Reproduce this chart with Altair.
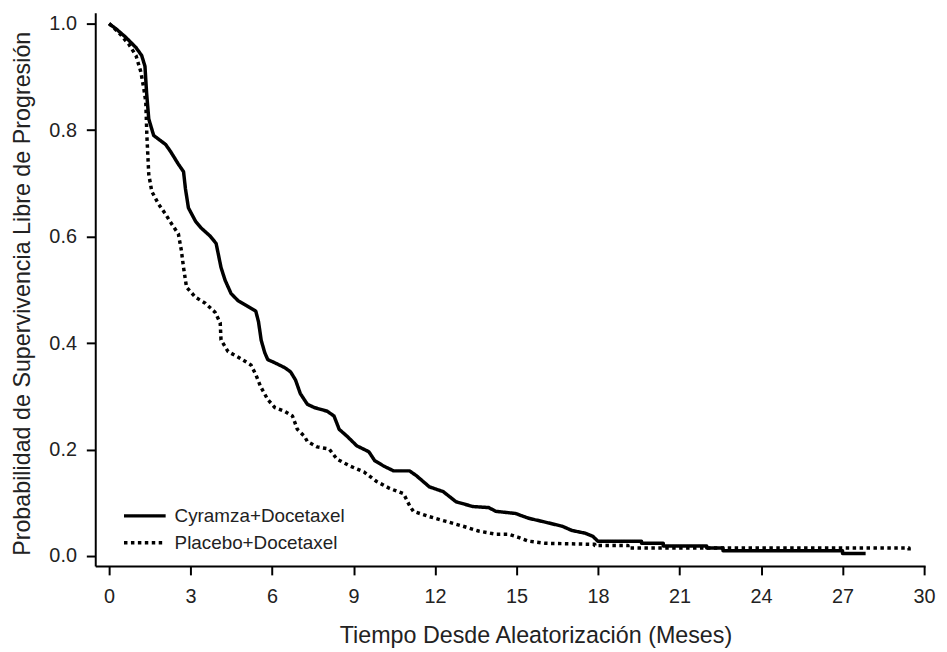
import altair as alt
import pandas as pd

# Kaplan-Meier curves
cyr_t = [0, 0.26, 0.6, 0.99, 1.2, 1.32, 1.38, 1.46, 1.64, 2.08, 2.26, 2.55, 2.74, 2.81, 2.92,
         3.18, 3.39, 3.72, 3.94, 4.12, 4.27, 4.49, 4.74, 5.04, 5.4, 5.5, 5.6, 5.73, 5.84, 6.1,
         6.46, 6.68, 6.86, 7.04, 7.3, 7.55, 8.03, 8.28, 8.47, 8.76, 9.12, 9.56, 9.78, 10.11,
         10.47, 11.06, 11.31, 11.79, 12.3, 12.77, 13.39, 13.98, 14.23, 14.96, 15.44, 15.95,
         16.68, 17.04, 17.52, 17.81, 17.99, 19.6, 19.6, 20.4, 20.4, 22.0, 22.0, 22.6, 22.6,
         27.0, 27.0, 27.85]
cyr_s = [1.0, 0.99, 0.975, 0.955, 0.94, 0.92, 0.87, 0.821, 0.79, 0.773, 0.76, 0.736, 0.722, 0.69, 0.654,
         0.629, 0.616, 0.601, 0.587, 0.542, 0.518, 0.493, 0.48, 0.471, 0.46, 0.44, 0.405, 0.382, 0.369, 0.363,
         0.354, 0.346, 0.331, 0.305, 0.285, 0.279, 0.272, 0.263, 0.238, 0.225, 0.207, 0.196, 0.179, 0.169,
         0.16, 0.16, 0.151, 0.13, 0.121, 0.102, 0.093, 0.091, 0.084, 0.08, 0.071, 0.065,
         0.056, 0.048, 0.043, 0.037, 0.028, 0.028, 0.024, 0.024, 0.019, 0.019, 0.015, 0.015, 0.01,
         0.01, 0.005, 0.005]

pla_t = [0, 0.36, 0.73, 0.99, 1.17, 1.28, 1.35, 1.39, 1.46, 1.57, 1.82, 2.08, 2.3, 2.55, 2.66,
         2.74, 2.85, 3.18, 3.54, 3.9, 4.09, 4.12, 4.38, 4.74, 5.22, 5.4, 5.58, 5.84, 6.1, 6.46,
         6.75, 6.93, 7.19, 7.3, 7.66, 8.1, 8.39, 8.87, 9.38, 9.85, 10.33, 10.84, 11.06, 11.2,
         11.79, 12.41, 13.03, 13.6, 14.23, 14.7, 15.07, 15.44, 16.06, 17.88, 17.88, 19.1, 19.1,
         29.45, 29.45]
pla_s = [1.0, 0.983, 0.961, 0.94, 0.909, 0.877, 0.853, 0.79, 0.717, 0.685, 0.661, 0.642, 0.624, 0.605, 0.574,
         0.542, 0.505, 0.486, 0.475, 0.458, 0.438, 0.406, 0.384, 0.374, 0.359, 0.341, 0.318, 0.294, 0.279, 0.272,
         0.263, 0.238, 0.225, 0.215, 0.205, 0.201, 0.182, 0.169, 0.158, 0.14, 0.127, 0.117, 0.095, 0.084,
         0.074, 0.065, 0.056, 0.047, 0.041, 0.041, 0.035, 0.028, 0.024, 0.022, 0.02, 0.02, 0.015,
         0.015, 0.006]

series_names = ["Cyramza+Docetaxel", "Placebo+Docetaxel"]
x_ticks = [0, 3, 6, 9, 12, 15, 18, 21, 24, 27, 30]
y_ticks = [0.0, 0.2, 0.4, 0.6, 0.8, 1.0]

rows = []
for i, (t, s) in enumerate(zip(cyr_t, cyr_s)):
    rows.append({"t": t, "s": s, "serie": series_names[0], "idx": i})
for i, (t, s) in enumerate(zip(pla_t, pla_s)):
    rows.append({"t": t, "s": s, "serie": series_names[1], "idx": i})
df = pd.DataFrame(rows)

FONT = "Liberation Sans"

chart = (
    alt.Chart(df)
    .mark_line(strokeWidth=3.5, color="black", strokeCap="butt", strokeJoin="round")
    .encode(
        x=alt.X("t:Q",
                scale=alt.Scale(domain=[-0.51, 30.04], nice=False, zero=False),
                axis=alt.Axis(values=x_ticks, title="Tiempo Desde Aleatorización (Meses)",
                              titleX=444, titleY=77, titleBaseline="alphabetic",
                              labelPadding=12)),
        y=alt.Y("s:Q",
                scale=alt.Scale(domain=[-0.0186, 1.0205], nice=False, zero=False),
                axis=alt.Axis(values=y_ticks, format=".1f",
                              title="Probabilidad de Supervivencia Libre de Progresión",
                              titleX=-66, titleY=283, titleBaseline="alphabetic",
                              titleFontSize=23.5, labelPadding=10)),
        strokeDash=alt.StrokeDash(
            "serie:N",
            scale=alt.Scale(domain=series_names, range=[[1, 0], [3.5, 3.5]]),
            legend=alt.Legend(orient="none", legendX=27, legendY=494, title=None,
                              symbolType="stroke", symbolSize=1764, symbolStrokeWidth=3.5,
                              symbolStrokeColor="black", labelFontSize=19, labelFont=FONT,
                              labelColor="#222", labelOffset=7, labelLimit=0,
                              clipHeight=27, rowPadding=0, padding=0),
        ),
        order=alt.Order("idx:Q"),
        detail="serie:N",
    )
    .properties(width=837, height=558,
                padding={"left": 88, "top": 2, "right": 14, "bottom": 80},
                autosize=alt.AutoSizeParams(type="none"))
    .configure_view(stroke=None)
    .configure_axis(
        grid=False,
        domainColor="black", domainWidth=2,
        tickColor="black", tickWidth=2, tickSize=9,
        labelFont=FONT, labelFontSize=20, labelColor="#222",
        titleFont=FONT, titleFontSize=23.5, titleColor="#222", titleFontWeight="normal",
    )
)

chart.save("out.html", embed_options={"renderer": "svg", "actions": False})
